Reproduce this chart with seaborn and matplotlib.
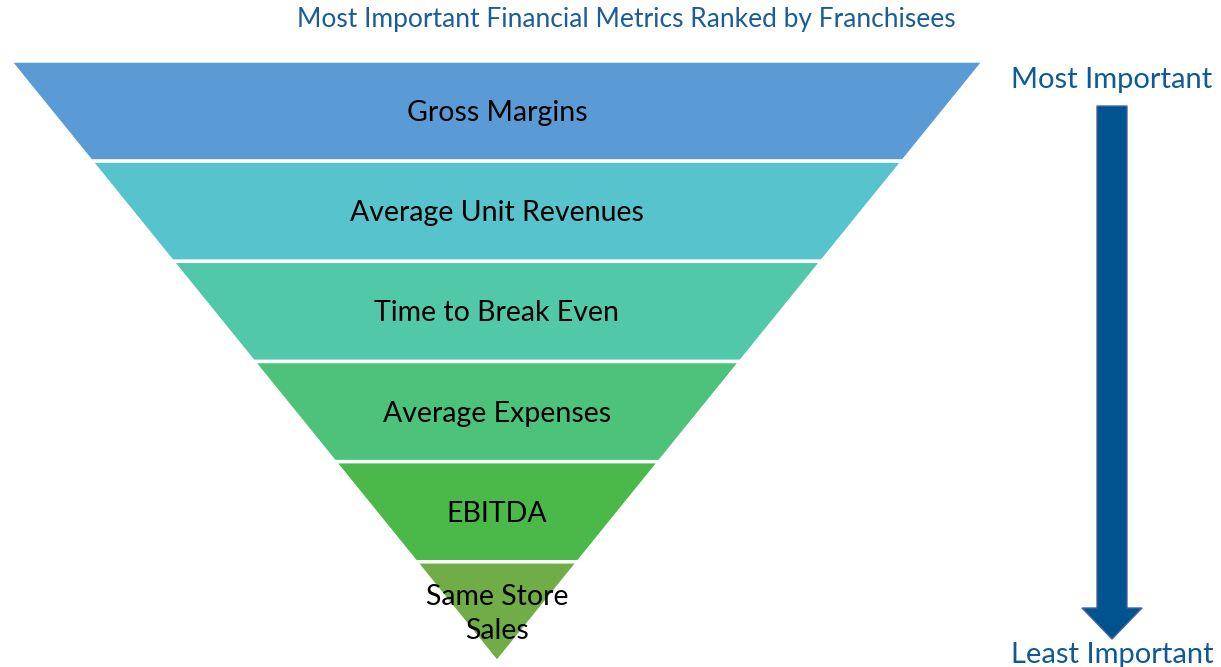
"""
Funnel: most important financial metrics ranked by franchisees.
"""

import matplotlib
matplotlib.use("Agg")
import matplotlib.pyplot as plt
from matplotlib.patches import Polygon, FancyArrow
import seaborn as sns

sns.set_theme(style="white")
plt.rcParams["font.family"] = ["Lato", "DejaVu Sans"]

# ── Datos ────────────────────────────────────────────────────────────────
metrics = ["Gross Margins", "Average Unit Revenues", "Time to Break Even",
           "Average Expenses", "EBITDA", "Same Store\nSales"]
ranks = [1, 2, 3, 4, 5, 6]
colors = ["#5B9BD5", "#57C3CD", "#51C8A8", "#4DC27A", "#4AB94A", "#70AD47"]

title = "Most Important Financial Metrics Ranked by Franchisees"
top_label = "Most Important"
bottom_label = "Least Important"

# ── Geometría del embudo (coordenadas en píxeles) ────────────────────────
W, H = 1221, 667
cx, y_top, y_apex, half_top = 497, 61, 662, 487
band_h = (y_apex - y_top) / len(ranks)


def half_width(y):
    return half_top * (1 - (y - y_top) / (y_apex - y_top))


fig = plt.figure(figsize=(W / 100, H / 100), dpi=100)
ax = fig.add_axes([0, 0, 1, 1])
ax.set_xlim(0, W)
ax.set_ylim(H, 0)
ax.axis("off")

for r, name, col in zip(ranks, metrics, colors):
    y0 = y_top + (r - 1) * band_h
    y1 = y0 + band_h
    w0, w1 = half_width(y0), half_width(y1)
    poly = Polygon([(cx - w0, y0), (cx + w0, y0), (cx + w1, y1), (cx - w1, y1)],
                   closed=True, facecolor=col, edgecolor="white", linewidth=2.5)
    ax.add_patch(poly)
    ax.text(cx, (y0 + y1) / 2 + 2, name, ha="center", va="center",
            fontsize=20.5, color="black", linespacing=1.4)

ax.text(626, 19, title, ha="center", va="center", fontsize=19,
        color="#1A5C9C")

# Flecha de importancia
ax_x = 1112
ax.text(ax_x, 80, top_label, ha="center", va="center", fontsize=21,
        color="#0E5A96")
ax.text(ax_x, 655, bottom_label, ha="center", va="center", fontsize=21,
        color="#0E5A96")
arrow = FancyArrow(ax_x, 106, 0, 533, width=30, head_width=60,
                   head_length=31, length_includes_head=True,
                   facecolor="#00538F", edgecolor="#3F66A3", linewidth=1)
ax.add_patch(arrow)

fig.savefig("out.png", dpi=100)
